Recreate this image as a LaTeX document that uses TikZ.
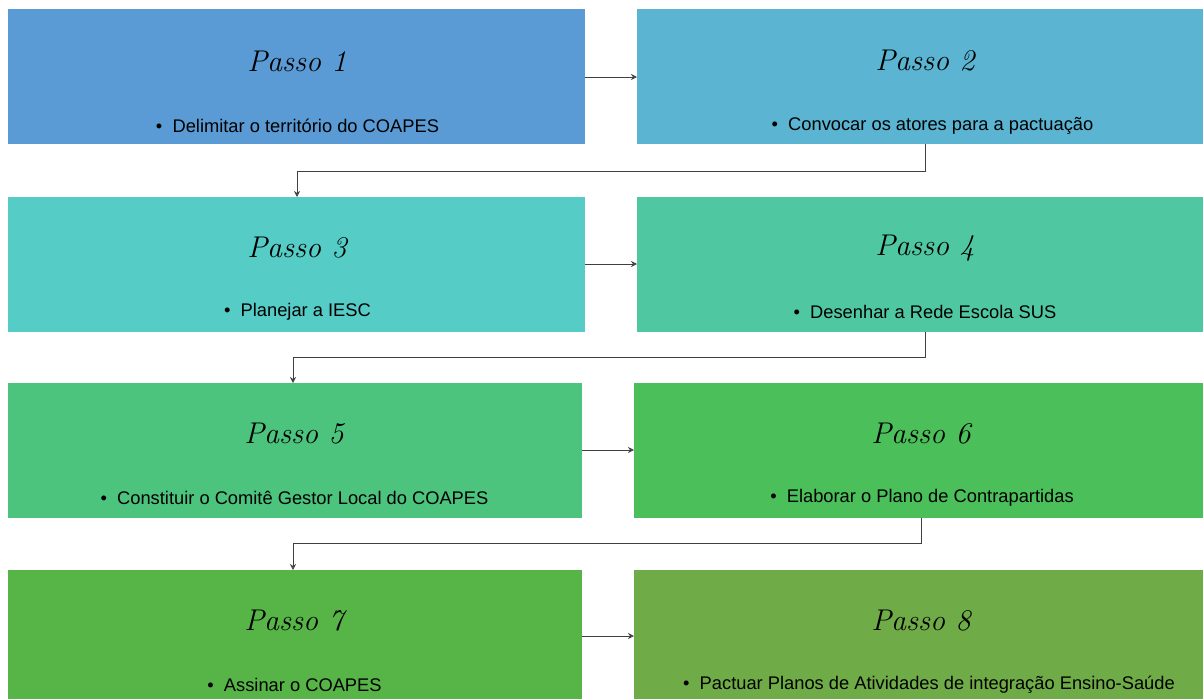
\documentclass[tikz,border=0pt]{standalone}
\usepackage{fontspec}
\setmainfont{Liberation Sans}
\newfontfamily\titlefont{Latin Modern Roman}
\usetikzlibrary{arrows.meta}
\definecolor{c1}{HTML}{5B9BD5}
\definecolor{c2}{HTML}{5AB4D2}
\definecolor{c3}{HTML}{55CCC6}
\definecolor{c4}{HTML}{4FC8A2}
\definecolor{c5}{HTML}{4CC47E}
\definecolor{c6}{HTML}{4BBF5A}
\definecolor{c7}{HTML}{57B547}
\definecolor{c8}{HTML}{6FAC47}
\definecolor{lc}{HTML}{404040}
\tikzset{
  box/.style={draw=none, inner sep=0pt, anchor=north west, minimum height=135pt},
  ttl/.style={font=\titlefont\itshape\fontsize{30}{30}\selectfont, text=black, inner sep=0pt},
  txt/.style={font=\fontsize{18.3}{18.3}\selectfont, text=black, inner sep=0pt},
  conn/.style={draw=lc, line width=0.9pt, -{Stealth[length=6pt,width=6pt,open]}}
}
\begin{document}
\begin{tikzpicture}[x=1pt,y=-1pt]
\useasboundingbox[fill=white] (0,0) rectangle (1203,699);
% boxes
\node[box, fill=c1, minimum width=577pt] (b1) at (8,9) {};
\node[box, fill=c2, minimum width=566pt] (b2) at (637,9) {};
\node[box, fill=c3, minimum width=577pt] (b3) at (8,197) {};
\node[box, fill=c4, minimum width=566pt] (b4) at (637,197) {};
\node[box, fill=c5, minimum width=574pt] (b5) at (8,383) {};
\node[box, fill=c6, minimum width=569pt] (b6) at (634,383) {};
\node[box, fill=c7, minimum width=574pt, minimum height=130pt] (b7) at (8,570) {};
\node[box, fill=c8, minimum width=569pt, minimum height=130pt] (b8) at (634,570) {};
% titles
\node[ttl] (t1) at (297,61) {Passo 1};
\node[ttl] (t2) at (925,61) {Passo 2};
\node[ttl] (t3) at (297,248) {Passo 3};
\node[ttl] (t4) at (925,248) {Passo 4};
\node[ttl] (t5) at (294,434) {Passo 5};
\node[ttl] (t6) at (921,434) {Passo 6};
\node[ttl] (t7) at (294,621) {Passo 7};
\node[ttl] (t8) at (921,621) {Passo 8};
% texts
\node[txt] (x1) at (297.5,126) {•\ \ Delimitar o território do COAPES};
\node[txt] (x2) at (932.5,126) {•\ \ Convocar os atores para a pactuação};
\node[txt] (x3) at (297.5,312) {•\ \ Planejar a IESC};
\node[txt] (x4) at (925,312) {•\ \ Desenhar a Rede Escola SUS};
\node[txt] (x5) at (294.5,498) {•\ \ Constituir o Comitê Gestor Local do COAPES};
\node[txt] (x6) at (922,498) {•\ \ Elaborar o Plano de Contrapartidas};
\node[txt] (x7) at (294.5,685) {•\ \ Assinar o COAPES};
\node[txt] (x8) at (929,685) {•\ \ Pactuar Planos de Atividades de integração Ensino-Saúde};
% connectors
\draw[conn] (b1.east |- 0,77) -- (b2.west |- 0,77);
\draw[conn] (b3.east |- 0,264) -- (b4.west |- 0,264);
\draw[conn] (b5.east |- 0,450) -- (b6.west |- 0,450);
\draw[conn] (b7.east |- 0,636) -- (b8.west |- 0,636);
\coordinate (k1) at (925,171);
\coordinate (k2) at (925,357);
\coordinate (k3) at (921,543);
\draw[conn] (b2.south -| k1) -- (k1) -| (b3.north -| 297,0);
\draw[conn] (b4.south -| k2) -- (k2) -| (b5.north -| 293,0);
\draw[conn] (b6.south -| k3) -- (k3) -| (b7.north -| 293,0);
\end{tikzpicture}
\end{document}
